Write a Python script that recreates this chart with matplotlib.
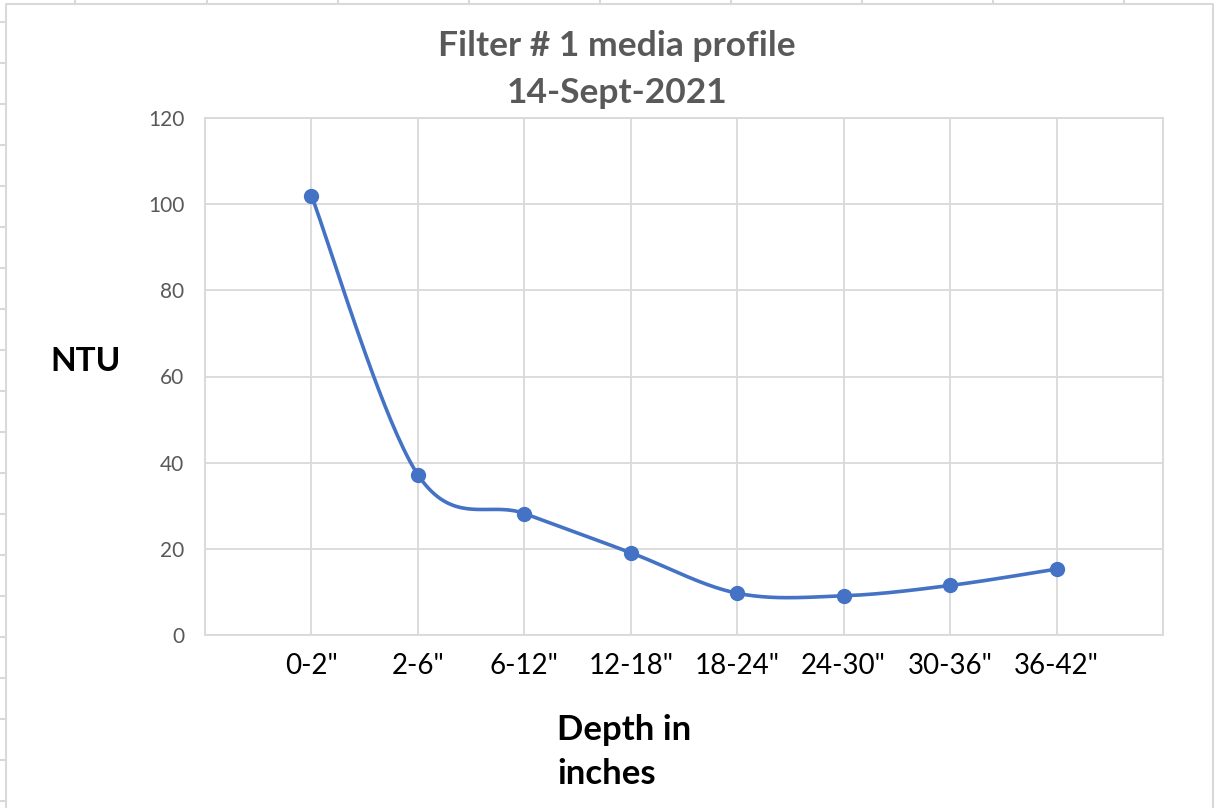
import matplotlib.pyplot as plt
import numpy as np
from matplotlib.lines import Line2D

# NTU readings by media depth
depths = ['0-2"', '2-6"', '6-12"', '12-18"', '18-24"', '24-30"', '30-36"', '36-42"']
ntu = [102, 37.2, 28.2, 19.1, 9.7, 9.1, 11.5, 15.3]

blue = '#4472C4'
grid_gray = '#D9D9D9'
text_gray = '#595959'
W, H = 1215, 808

plt.rcParams['font.family'] = ['Lato', 'DejaVu Sans']

fig = plt.figure(figsize=(W / 100, H / 100), dpi=100)
fig.patch.set_facecolor('white')


def fx(px):
    return px / W


def fy(py):
    return 1 - py / H


# worksheet cell lines peeking around the chart box
for x in [75, 207, 338, 469, 600, 731, 862, 993, 1124]:
    fig.add_artist(Line2D([fx(x), fx(x)], [fy(0), fy(4)], color=grid_gray, lw=1.5))
for y in range(22, H, 41):
    fig.add_artist(Line2D([fx(0), fx(6)], [fy(y), fy(y)], color=grid_gray, lw=1.5))
# chart area border
fig.add_artist(Line2D([fx(6), fx(6), fx(1213), fx(1213)],
                      [fy(H), fy(4), fy(4), fy(H)], color=grid_gray, lw=1.5))

ax = fig.add_axes([fx(205), fy(635), fx(1163) - fx(205), fy(118) - fy(635)])

# smoothed line (Catmull-Rom style bezier through the points)
xs = np.arange(1, len(ntu) + 1, dtype=float)
ys = np.array(ntu, dtype=float)
pts = np.column_stack([xs, ys])
curve = []
for i in range(len(pts) - 1):
    p0 = pts[i - 1] if i > 0 else pts[i]
    p1 = pts[i]
    p2 = pts[i + 1]
    p3 = pts[i + 2] if i + 2 < len(pts) else pts[i + 1]
    c1 = p1 + (p2 - p0) / 6
    c2 = p2 - (p3 - p1) / 6
    t = np.linspace(0, 1, 40)[:, None]
    seg = ((1 - t) ** 3) * p1 + 3 * ((1 - t) ** 2) * t * c1 + 3 * (1 - t) * t ** 2 * c2 + t ** 3 * p2
    curve.append(seg if i == 0 else seg[1:])
curve = np.vstack(curve)

ax.plot(curve[:, 0], curve[:, 1], color=blue, lw=2.6, solid_capstyle='round', zorder=3)
ax.plot(xs, ys, 'o', color=blue, ms=10, zorder=4)

ax.set_xlim(0, 9)
ax.set_ylim(0, 120)
ax.set_xticks(range(10))
ax.set_xticklabels([''] + depths + [''])
ax.set_yticks(range(0, 121, 20))
ax.grid(True, color=grid_gray, lw=1.3)
ax.set_axisbelow(True)
for s in ax.spines.values():
    s.set_color(grid_gray)
    s.set_linewidth(1.3)
ax.tick_params(axis='both', length=0)
ax.tick_params(axis='y', labelsize=15, labelcolor=text_gray, pad=15)
ax.tick_params(axis='x', labelsize=20, labelcolor='black', pad=13)

fig.text(fx(617), fy(46), 'Filter # 1 media profile', ha='center', va='center',
         fontsize=25.5, fontweight='bold', color=text_gray)
fig.text(fx(617), fy(93), '14-Sept-2021', ha='center', va='center',
         fontsize=25.5, fontweight='bold', color=text_gray)
fig.text(fx(86), fy(362), 'NTU', ha='center', va='center',
         fontsize=24, fontweight='bold', color='black')
fig.text(fx(557), fy(730), 'Depth in', ha='left', va='center',
         fontsize=25, fontweight='bold', color='black')
fig.text(fx(557), fy(774), 'inches', ha='left', va='center',
         fontsize=25, fontweight='bold', color='black')

fig.savefig('out.png', dpi=100, facecolor='white')
